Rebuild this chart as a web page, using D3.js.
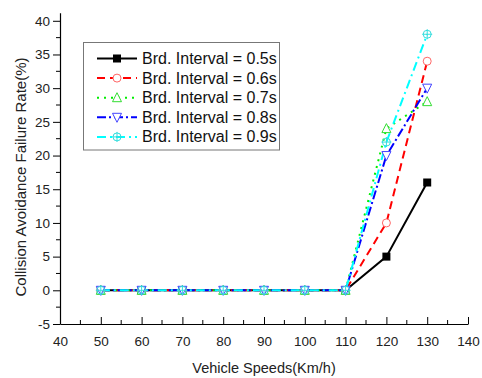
<!DOCTYPE html>
<html><head><meta charset="utf-8">
<script src="https://cdn.jsdelivr.net/npm/d3@7"></script>
<style>body{margin:0;background:#fff}svg{display:block;font-family:"Liberation Sans",Arial,sans-serif}</style>
</head><body><svg id="c" width="482" height="378"></svg>
<script>
const speeds = [50, 60, 70, 80, 90, 100, 110, 120, 130];
const seriesNames = ["Brd. Interval = 0.5s","Brd. Interval = 0.6s","Brd. Interval = 0.7s","Brd. Interval = 0.8s","Brd. Interval = 0.9s"];
const s05 = [0,0,0,0,0,0,0,5,16];
const s06 = [0,0,0,0,0,0,0,10,34];
const s07 = [0,0,0,0,0,0,0,24,28];
const s08 = [0,0,0,0,0,0,0,20,30];
const s09 = [0,0,0,0,0,0,0,22,38];
const xTicks = [40,50,60,70,80,90,100,110,120,130,140];
const yTicks = [-5,0,5,10,15,20,25,30,35,40];
const colors = ["#000000","#ff0000","#00ee00","#0000ff","#00ffff"];
const dashes = [null,"8,5","2,5","9,3,2,3","9,4,2,4"];
const markers = ["square","circle","tri-up","tri-down","crosscircle"];

const series = [s05,s06,s07,s08,s09];
const svg = d3.select("#c");
const x = d3.scaleLinear().domain([40,140]).range([60,468]);
const y = d3.scaleLinear().domain([-5,41.2]).range([324,12.7]);

// axes
const xAxis = d3.axisBottom(x).tickValues(xTicks).tickFormat(d=>String(d)).tickSizeInner(-7).tickSizeOuter(0).tickPadding(12);
const gx = svg.append("g").attr("transform","translate(0,324)").call(xAxis);
gx.append("g").selectAll("line").data(d3.range(45,140,10)).join("line")
  .attr("x1",d=>x(d)).attr("x2",d=>x(d)).attr("y1",0).attr("y2",-4).attr("stroke","#000");
const yAxis = d3.axisLeft(y).tickValues(yTicks).tickFormat(d=>String(d)).tickSizeInner(7).tickSizeOuter(0).tickPadding(3);
const gy = svg.append("g").attr("transform","translate(60,0)").call(yAxis);
gy.append("g").selectAll("line").data(d3.range(-2.5,41,5)).join("line")
  .attr("x1",0).attr("x2",-4).attr("y1",d=>y(d)).attr("y2",d=>y(d)).attr("stroke","#000");
[gx,gy].forEach(g=>{
  g.selectAll(".domain").attr("stroke","#000").attr("stroke-width",1.2);
  g.selectAll(".tick line").attr("stroke","#000");
  g.selectAll("text").attr("font-size","13.5px").attr("fill","#222").attr("font-family","Liberation Sans, Arial, sans-serif");
});
gx.selectAll(".tick text").attr("dy","0.71em").attr("y",12);

svg.append("text").attr("x",264).attr("y",373).attr("text-anchor","middle")
  .attr("font-size","14.5px").attr("fill","#222").text("Vehicle Speeds(Km/h)");
svg.append("text").attr("transform","translate(26,177) rotate(-90)").attr("text-anchor","middle")
  .attr("font-size","15px").attr("fill","#222").text("Collision Avoidance Failure Rate(%)");

function drawMarker(g, type, cx, cy, color){
  const s = 4;
  if(type==="square"){
    g.append("rect").attr("x",cx-s).attr("y",cy-s).attr("width",2*s).attr("height",2*s).attr("fill",color);
  } else if(type==="circle"){
    g.append("circle").attr("cx",cx).attr("cy",cy).attr("r",s).attr("fill","#fff").attr("stroke","#ff6666").attr("stroke-width",1);
  } else if(type==="tri-up"){
    g.append("path").attr("d",`M${cx},${cy-s-1}L${cx+s+0.5},${cy+s}L${cx-s-0.5},${cy+s}Z`).attr("fill","#fff").attr("stroke","#33dd33").attr("stroke-width",1);
  } else if(type==="tri-down"){
    g.append("path").attr("d",`M${cx},${cy+s+1}L${cx+s+0.5},${cy-s}L${cx-s-0.5},${cy-s}Z`).attr("fill","#fff").attr("stroke","#4444ff").attr("stroke-width",1);
  } else if(type==="crosscircle"){
    g.append("circle").attr("cx",cx).attr("cy",cy).attr("r",s).attr("fill","none").attr("stroke","#33dddd").attr("stroke-width",1);
    g.append("path").attr("d",`M${cx-s-1},${cy}H${cx+s+1}M${cx},${cy-s-1}V${cy+s+1}`).attr("stroke","#33dddd").attr("stroke-width",1);
  }
}

const line = d3.line().x((d,i)=>x(speeds[i])).y(d=>y(d));
series.forEach((vals,k)=>{
  const g = svg.append("g");
  g.append("path").datum(vals).attr("d",line).attr("fill","none").attr("stroke",colors[k])
    .attr("stroke-width",2).attr("stroke-dasharray",dashes[k]);
});
series.forEach((vals,k)=>{
  const g = svg.append("g");
  vals.forEach((v,i)=>drawMarker(g,markers[k],x(speeds[i]),y(v),colors[k]));
});

// legend
const lg = svg.append("g");
lg.append("rect").attr("x",83.5).attr("y",42.5).attr("width",196).attr("height",107.5)
  .attr("fill","#fff").attr("stroke","#777").attr("stroke-width",1);
seriesNames.forEach((name,k)=>{
  const cy = 58.5 + k*19.6;
  lg.append("line").attr("x1",97).attr("x2",137).attr("y1",cy).attr("y2",cy)
    .attr("stroke",colors[k]).attr("stroke-width",2).attr("stroke-dasharray",dashes[k]);
  drawMarker(lg,markers[k],117,cy,colors[k]);
  lg.append("text").attr("x",142).attr("y",cy+5.5).attr("font-size","16px").attr("fill","#111").text(name);
});
</script></body></html>
